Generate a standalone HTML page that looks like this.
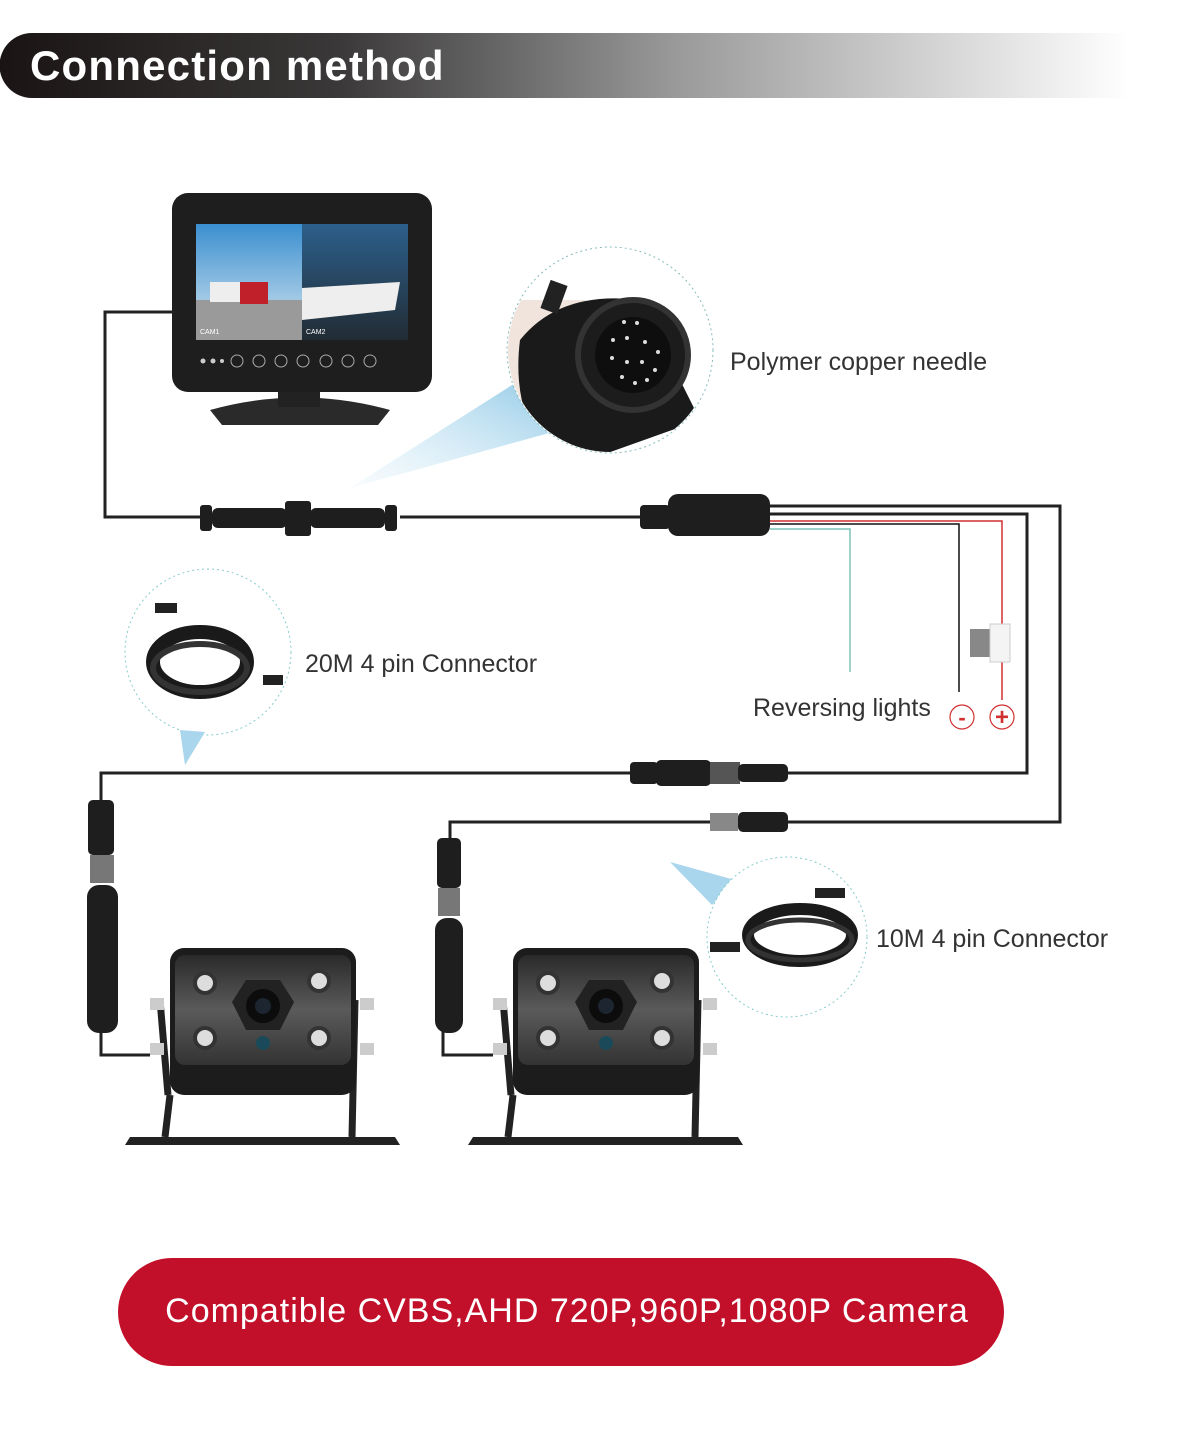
<!DOCTYPE html>
<html><head><meta charset="utf-8"><style>
body{margin:0;background:#fff;width:1185px;height:1437px;overflow:hidden;font-family:"Liberation Sans",sans-serif}
svg{display:block}
</style></head><body>
<svg width="1185" height="1437" viewBox="0 0 1185 1437" xmlns="http://www.w3.org/2000/svg">
<defs>
<linearGradient id="hdr" x1="0" x2="1" y1="0" y2="0">
<stop offset="0" stop-color="#1a1414"/><stop offset="0.3" stop-color="#3a3838"/><stop offset="0.6" stop-color="#9a9a9a"/><stop offset="1" stop-color="#ffffff"/></linearGradient>
<linearGradient id="beam" x1="0" x2="1" y1="1" y2="0"><stop offset="0" stop-color="#d8eef8" stop-opacity="0.2"/><stop offset="1" stop-color="#8fc8e6"/></linearGradient>
<linearGradient id="sky" x1="0" y1="0" x2="0" y2="1"><stop offset="0" stop-color="#3b8fd0"/><stop offset="1" stop-color="#d8e8f0"/></linearGradient>
<linearGradient id="sea" x1="0" y1="0" x2="0" y2="1"><stop offset="0" stop-color="#2c5f8c"/><stop offset="1" stop-color="#222c34"/></linearGradient>
<linearGradient id="cam" x1="0" y1="0" x2="0" y2="1"><stop offset="0" stop-color="#2a2a2a"/><stop offset="0.5" stop-color="#5a5a5a"/><stop offset="1" stop-color="#333"/></linearGradient>
<g id="camera">
 <path d="M165 1137 L395 1137 L400 1145 L125 1145 L130 1137 Z" fill="#222"/>
 <path d="M168 1095 L160 1000 M355 1000 L352 1137 M165 1137 L170 1095" stroke="#222" stroke-width="7" fill="none"/>
 <rect x="150" y="998" width="14" height="12" fill="#ccc"/><rect x="150" y="1043" width="14" height="12" fill="#ccc"/>
 <rect x="360" y="998" width="14" height="12" fill="#ccc"/><rect x="360" y="1043" width="14" height="12" fill="#ccc"/>
 <rect x="170" y="948" width="186" height="147" rx="14" fill="#1c1c1c"/>
 <rect x="175" y="955" width="176" height="110" rx="10" fill="url(#cam)"/>
 <path d="M232 1002 L246 980 L280 980 L294 1002 L280 1030 L246 1030 Z" fill="#222"/>
 <circle cx="263" cy="1006" r="17" fill="#0c0c0c"/><circle cx="263" cy="1006" r="8" fill="#1d2530"/>
 <circle cx="263" cy="1043" r="7" fill="#1a4a5a"/>
 <circle cx="205" cy="983" r="12" fill="#333"/><circle cx="205" cy="983" r="8" fill="#ddd"/>
 <circle cx="319" cy="981" r="12" fill="#333"/><circle cx="319" cy="981" r="8" fill="#ddd"/>
 <circle cx="205" cy="1038" r="12" fill="#333"/><circle cx="205" cy="1038" r="8" fill="#ddd"/>
 <circle cx="319" cy="1038" r="12" fill="#333"/><circle cx="319" cy="1038" r="8" fill="#ddd"/>
</g>
</defs>

<path d="M32 33 H1130 V98 H32 A32 32 0 0 1 32 33 Z" fill="url(#hdr)"/>
<text x="30" y="80" fill="#fff" font-size="42" font-weight="bold" letter-spacing="1.2">Connection method</text>

<g fill="none" stroke="#222" stroke-width="3">
<polyline points="175,312 105,312 105,517 200,517"/>
<line x1="400" y1="517" x2="645" y2="517"/>
<polyline points="770,506 1060,506 1060,822 450,822 450,840"/>
<polyline points="770,514 1027,514 1027,773 101,773 101,805"/>
<polyline points="101,1030 101,1055 150,1055"/>
<polyline points="443,1030 443,1055 493,1055"/>
</g>
<polyline points="770,521 1002,521 1002,700" fill="none" stroke="#d03030" stroke-width="1.5"/>
<polyline points="770,524 959,524 959,692" fill="none" stroke="#111" stroke-width="1.5"/>
<polyline points="770,529 850,529 850,672" fill="none" stroke="#7cc4b8" stroke-width="1.5"/>
<rect x="970" y="629" width="20" height="28" fill="#888"/><rect x="990" y="624" width="20" height="38" fill="#f4f4f4" stroke="#ccc"/>

<path d="M210 410 Q300 385 390 410 L378 425 L222 425 Z" fill="#2a2a2a"/>
<rect x="278" y="385" width="42" height="22" fill="#222"/>
<rect x="172" y="193" width="260" height="199" rx="16" fill="#1e1e1e"/>
<rect x="196" y="224" width="106" height="116" fill="url(#sky)"/>
<rect x="196" y="300" width="106" height="40" fill="#9a9a9a"/>
<rect x="210" y="282" width="30" height="20" fill="#eee"/><rect x="240" y="282" width="28" height="22" fill="#c0202a"/>
<rect x="302" y="224" width="106" height="116" fill="url(#sea)"/>
<path d="M302 288 L400 282 L395 310 L302 320 Z" fill="#eee"/>
<text x="200" y="334" fill="#fff" font-size="7">CAM1</text><text x="306" y="334" fill="#fff" font-size="7">CAM2</text>
<g fill="none" stroke="#aaa" stroke-width="1"><circle cx="237" cy="361" r="6"/><circle cx="259" cy="361" r="6"/><circle cx="281" cy="361" r="6"/><circle cx="303" cy="361" r="6"/><circle cx="326" cy="361" r="6"/><circle cx="348" cy="361" r="6"/><circle cx="370" cy="361" r="6"/></g>
<circle cx="203" cy="361" r="2.5" fill="#ccc"/><circle cx="213" cy="361" r="2.5" fill="#ccc"/><circle cx="222" cy="361" r="2" fill="#ccc"/>

<path d="M350 488 L520 380 L560 430 Z" fill="url(#beam)"/>
<circle cx="610" cy="350" r="103" fill="#fff" stroke="#8bb" stroke-dasharray="2,3"/>
<clipPath id="c1"><circle cx="610" cy="350" r="102"/></clipPath>
<g clip-path="url(#c1)">
<rect x="505" y="300" width="80" height="120" fill="#f0e4dc"/>
<path d="M520 340 Q560 290 640 300 L700 420 L560 470 Q510 420 520 340Z" fill="#1a1a1a"/>
<circle cx="633" cy="355" r="55" fill="#1c1c1c" stroke="#333" stroke-width="6"/>
<circle cx="633" cy="355" r="38" fill="#0e0e0e"/>
<rect x="545" y="282" width="18" height="30" fill="#222" transform="rotate(20 554 297)"/>
<g fill="#ddd"><circle cx="624" cy="322" r="2"/><circle cx="637" cy="323" r="2"/><circle cx="613" cy="340" r="2"/><circle cx="627" cy="338" r="2"/><circle cx="645" cy="342" r="2"/><circle cx="658" cy="352" r="2"/><circle cx="612" cy="358" r="2"/><circle cx="627" cy="362" r="2"/><circle cx="642" cy="362" r="2"/><circle cx="655" cy="370" r="2"/><circle cx="622" cy="377" r="2"/><circle cx="635" cy="383" r="2"/><circle cx="647" cy="380" r="2"/></g>
</g>
<text x="730" y="370" fill="#333" font-size="25">Polymer copper needle</text>

<g fill="#1e1e1e">
<rect x="200" y="505" width="12" height="26" rx="3"/><rect x="212" y="508" width="75" height="20" rx="6"/>
<rect x="285" y="501" width="26" height="35" rx="3"/><rect x="310" y="508" width="75" height="20" rx="6"/><rect x="385" y="505" width="12" height="26" rx="3"/>
<rect x="640" y="505" width="30" height="24" rx="4"/><rect x="668" y="494" width="102" height="42" rx="10"/>
<rect x="630" y="762" width="28" height="22" rx="4"/><rect x="656" y="760" width="55" height="26" rx="5"/><rect x="710" y="762" width="30" height="22" fill="#555"/><rect x="738" y="764" width="50" height="18" rx="5"/>
<rect x="710" y="813" width="28" height="18" fill="#888"/><rect x="738" y="812" width="50" height="20" rx="5"/>
<rect x="88" y="800" width="26" height="55" rx="5"/><rect x="90" y="855" width="24" height="28" fill="#777"/><rect x="87" y="885" width="31" height="148" rx="12"/>
<rect x="437" y="838" width="24" height="50" rx="5"/><rect x="438" y="888" width="22" height="28" fill="#777"/><rect x="435" y="918" width="28" height="115" rx="12"/>
</g>

<circle cx="208" cy="652" r="83" fill="#fff" stroke="#8cc" stroke-dasharray="2,3"/>
<path d="M180 730 L205 732 L185 765 Z" fill="#a9d6ec"/>
<ellipse cx="200" cy="662" rx="47" ry="30" fill="none" stroke="#1a1a1a" stroke-width="14"/>
<ellipse cx="200" cy="668" rx="47" ry="24" fill="none" stroke="#333" stroke-width="6"/>
<rect x="155" y="603" width="22" height="10" fill="#222"/><rect x="263" y="675" width="20" height="10" fill="#222"/>
<text x="305" y="672" fill="#333" font-size="25">20M 4 pin Connector</text>

<text x="753" y="716" fill="#333" font-size="25">Reversing lights</text>
<circle cx="962" cy="717" r="12" fill="#fff" stroke="#d03030" stroke-width="1.2"/>
<text x="962" y="725" fill="#d03030" font-size="22" text-anchor="middle" font-weight="bold">-</text>
<circle cx="1002" cy="717" r="12" fill="#fff" stroke="#d03030" stroke-width="1.2"/>
<text x="1002" y="725" fill="#d03030" font-size="24" text-anchor="middle" font-weight="bold">+</text>

<path d="M670 862 L735 880 L712 905 Z" fill="#a9d6ec"/>
<circle cx="787" cy="937" r="80" fill="#fff" stroke="#8cc" stroke-dasharray="2,3"/>
<ellipse cx="800" cy="935" rx="52" ry="26" fill="none" stroke="#1a1a1a" stroke-width="12"/>
<ellipse cx="800" cy="940" rx="52" ry="20" fill="none" stroke="#333" stroke-width="5"/>
<rect x="710" y="942" width="30" height="10" fill="#222"/><rect x="815" y="888" width="30" height="10" fill="#222"/>
<text x="876" y="947" fill="#333" font-size="25">10M 4 pin Connector</text>

<use href="#camera"/>
<use href="#camera" transform="translate(343,0)"/>

<rect x="118" y="1258" width="886" height="108" rx="54" fill="#c3102a"/>
<text x="567" y="1322" fill="#fff" font-size="34" text-anchor="middle" letter-spacing="1">Compatible CVBS,AHD 720P,960P,1080P Camera</text>
</svg>
</body></html>
